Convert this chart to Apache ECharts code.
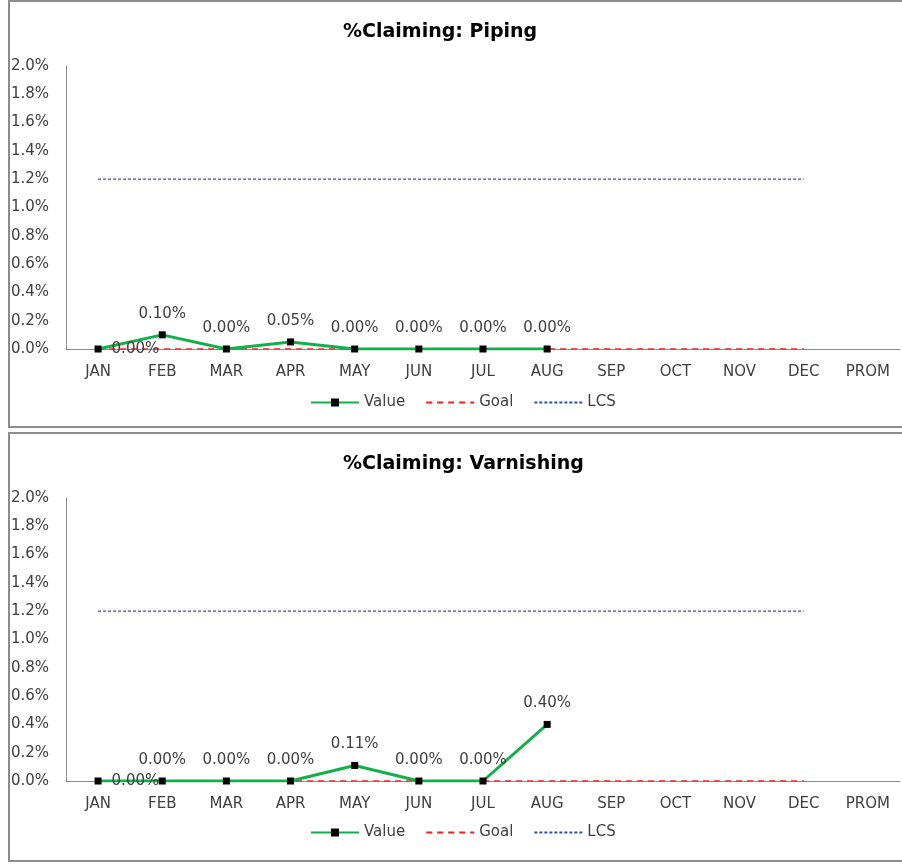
<!DOCTYPE html>
<html>
<head>
<meta charset="utf-8">
<script src="https://cdn.jsdelivr.net/npm/echarts@6/dist/echarts.min.js"></script>
<style>
  html, body { margin: 0; padding: 0; background: #fff; width: 902px; height: 864px; overflow: hidden; }
  .panel { position: absolute; left: 8px; width: 894px; border: 2px solid #8c8c8c; border-right: none; box-sizing: border-box; background: #fff; }
  #p1 { top: 0px; height: 428px; }
  #p2 { top: 432px; height: 430px; }
  .chart { width: 892px; height: 100%; }
</style>
</head>
<body>
<div class="panel" id="p1"><div class="chart" id="c1"></div></div>
<div class="panel" id="p2"><div class="chart" id="c2"></div></div>
<script>
// Month categories shared by both charts
const categories = ['JAN','FEB','MAR','APR','MAY','JUN','JUL','AUG','SEP','OCT','NOV','DEC','PROM'];

// Percent values (in %)
const pipingValue     = [0.00, 0.10, 0.00, 0.05, 0.00, 0.00, 0.00, 0.00, null, null, null, null, null];
const varnishingValue = [0.00, 0.00, 0.00, 0.00, 0.11, 0.00, 0.00, 0.40, null, null, null, null, null];
const goalValue       = [0, 0, 0, 0, 0, 0, 0, 0, 0, 0, 0, 0, null];
const lcsValue        = [1.2, 1.2, 1.2, 1.2, 1.2, 1.2, 1.2, 1.2, 1.2, 1.2, 1.2, 1.2, null];

const FONT = 'DejaVu Sans';
const TXT = '#404040';

function buildOption(title, values, titleTop, legendTop) {
  const valueData = values.map((v, i) => {
    if (v === null) return null;
    if (i === 0) return { value: v, label: { position: 'right', distance: 10 } };
    return v;
  });
  return {
    animation: false,
    textStyle: { fontFamily: FONT },
    title: {
      text: title,
      left: 328,
      top: titleTop,
      textStyle: { fontFamily: FONT, fontSize: 19, fontWeight: 'bold', color: '#000' }
    },
    legend: {
      left: 295,
      top: legendTop,
      itemWidth: 48,
      itemHeight: 10,
      itemGap: 20,
      textStyle: { fontFamily: FONT, fontSize: 15, color: TXT },
      data: [
        { name: 'Value' },
        { name: 'Goal', itemStyle: { opacity: 0 } },
        { name: 'LCS', itemStyle: { opacity: 0 } }
      ]
    },
    grid: { left: 56, top: 64, height: 283, right: 2, containLabel: false, outerBoundsMode: 'none' },
    xAxis: {
      type: 'category',
      data: categories,
      boundaryGap: true,
      axisLine: { lineStyle: { color: '#8c8c8c', width: 1 } },
      axisTick: { show: false },
      axisLabel: { color: TXT, fontSize: 15, margin: 16, fontFamily: FONT }
    },
    yAxis: {
      type: 'value',
      min: 0, max: 2.0, interval: 0.2,
      axisLine: { show: true, lineStyle: { color: '#8c8c8c', width: 1 } },
      axisTick: { show: false },
      splitLine: { show: false },
      axisLabel: {
        color: TXT, fontSize: 15, margin: 17, fontFamily: FONT,
        formatter: v => v.toFixed(1) + '%'
      }
    },
    series: [
      {
        name: 'Goal', type: 'line', data: goalValue, symbol: 'none', z: 3,
        lineStyle: { color: '#ff1a1a', width: 1.5, type: [6, 5] },
        itemStyle: { color: '#ff1a1a' }
      },
      {
        name: 'LCS', type: 'line', data: lcsValue, symbol: 'none', z: 2,
        lineStyle: { color: '#2f4f9f', width: 1.2, type: [3, 2] },
        itemStyle: { color: '#2f4f9f' }
      },
      {
        name: 'Value', type: 'line', data: valueData, z: 4,
        symbol: 'rect', symbolSize: 7,
        lineStyle: { color: '#12b04a', width: 3 },
        itemStyle: { color: '#000' },
        label: {
          show: true, position: 'top', distance: 10,
          color: TXT, fontSize: 15, fontFamily: FONT,
          formatter: p => p.value.toFixed(2) + '%'
        }
      }
    ]
  };
}

echarts.init(document.getElementById('c1'), null, { renderer: 'canvas' })
  .setOption(buildOption('%Claiming: Piping', pipingValue, 16, 388));
echarts.init(document.getElementById('c2'), null, { renderer: 'canvas' })
  .setOption(buildOption('%Claiming: Varnishing', varnishingValue, 16, 386));
</script>
</body>
</html>
